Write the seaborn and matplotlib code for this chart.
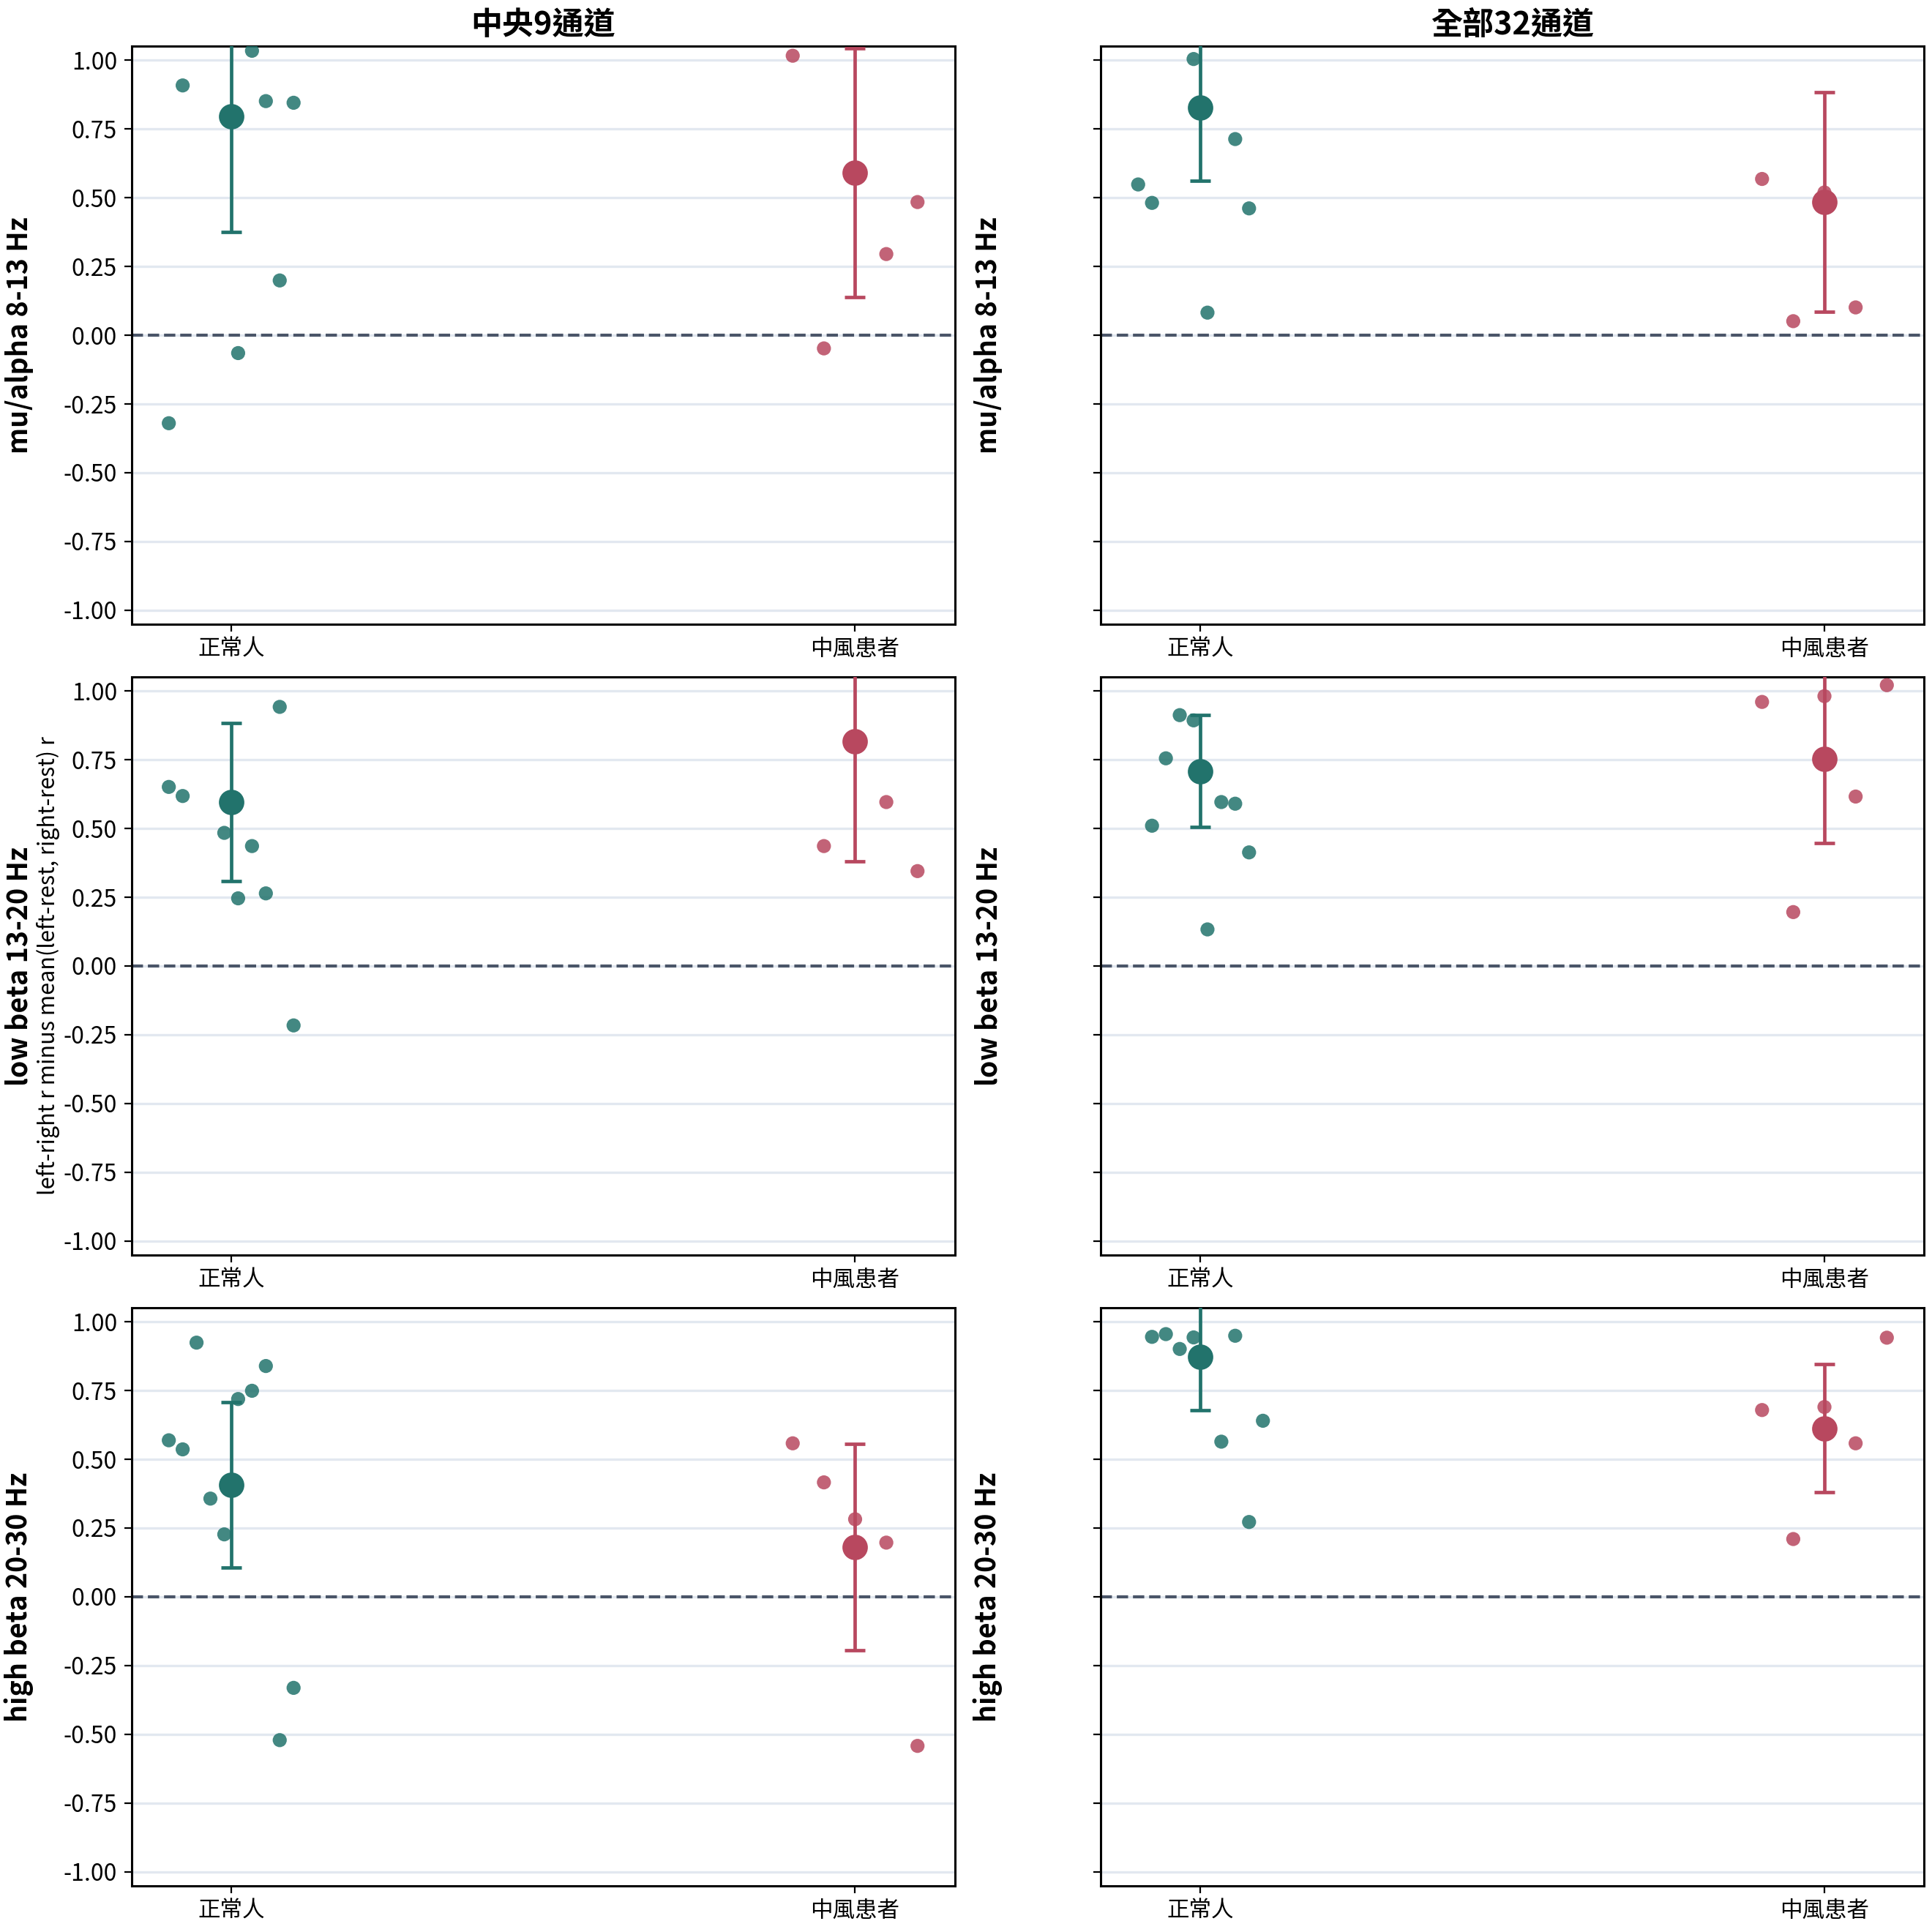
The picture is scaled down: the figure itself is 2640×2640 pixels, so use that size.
import numpy as np
import pandas as pd
import seaborn as sns
import matplotlib.pyplot as plt

sns.set_style('ticks')
plt.rcParams['font.family'] = ['Noto Sans CJK TC', 'DejaVu Sans']
plt.rcParams['axes.unicode_minus'] = False
for k in ['text.color', 'axes.labelcolor', 'xtick.color', 'ytick.color']:
    plt.rcParams[k] = 'black'

groups = ['正常人', '中風患者']
bands = ['mu/alpha 8-13 Hz', 'low beta 13-20 Hz', 'high beta 20-30 Hz']
regions = ['中央9通道', '全部32通道']

nan = np.nan
# 每位受試者的數值 (畫面外的點以 nan 表示)
healthy_c9_mu = [-0.32, 0.908, nan, nan, nan, -0.065, 1.034, 0.851, 0.199, 0.845]
healthy_c9_lb = [0.651, 0.618, nan, nan, 0.484, 0.246, 0.436, 0.264, 0.942, -0.216]
healthy_c9_hb = [0.569, 0.536, 0.924, 0.357, 0.227, 0.719, 0.749, 0.839, -0.521, -0.331]
healthy_a32_mu = [0.548, 0.481, nan, nan, 1.004, 0.082, nan, 0.713, 0.461, nan]
healthy_a32_lb = [nan, 0.510, 0.755, 0.912, 0.893, 0.133, 0.596, 0.590, 0.413, nan]
healthy_a32_hb = [nan, 0.945, 0.955, 0.901, 0.943, nan, 0.564, 0.949, 0.272, 0.640]

stroke_c9_mu = [1.016, -0.048, nan, 0.295, 0.484]
stroke_c9_lb = [nan, 0.436, nan, 0.596, 0.345]
stroke_c9_hb = [0.558, 0.416, 0.282, 0.197, -0.542]
stroke_a32_mu = [0.568, 0.051, 0.519, 0.101, nan]
stroke_a32_lb = [0.960, 0.196, 0.981, 0.616, 1.021]
stroke_a32_hb = [0.679, 0.210, 0.690, 0.558, 0.942]

# 平均值與誤差 (依列: 頻帶, 依欄: 通道組)
healthy_mean = [[0.796, 0.827], [0.596, 0.709], [0.407, 0.872]]
healthy_err = [[0.420, 0.265], [0.288, 0.203], [0.301, 0.194]]
stroke_mean = [[0.591, 0.484], [0.818, 0.754], [0.182, 0.613]]
stroke_err = [[0.452, 0.400], [0.437, 0.308], [0.375, 0.232]]

healthy_vals = [[healthy_c9_mu, healthy_a32_mu],
                [healthy_c9_lb, healthy_a32_lb],
                [healthy_c9_hb, healthy_a32_hb]]
stroke_vals = [[stroke_c9_mu, stroke_a32_mu],
               [stroke_c9_lb, stroke_a32_lb],
               [stroke_c9_hb, stroke_a32_hb]]

colors = {'正常人': '#22736c', '中風患者': '#b8485f'}

fig, axes = plt.subplots(3, 2, figsize=(13.2, 13.2))

for r in range(3):
    for c in range(2):
        ax = axes[r, c]
        ax.grid(axis='y', color='#e2e8f0', linewidth=1.2, zorder=0)
        ax.set_axisbelow(True)
        ax.axhline(0, color='#4a5568', linestyle='--', linewidth=1.5, zorder=1)
        for gi, (g, vals, means, errs) in enumerate([
                ('正常人', healthy_vals[r][c], healthy_mean, healthy_err),
                ('中風患者', stroke_vals[r][c], stroke_mean, stroke_err)]):
            n = len(vals)
            df = pd.DataFrame({'x': gi + np.linspace(-0.1, 0.1, n), 'y': vals})
            sns.scatterplot(data=df, x='x', y='y', ax=ax, color=colors[g],
                            alpha=0.85, s=48, edgecolor='none', zorder=3)
            ax.errorbar(gi, means[r][c], yerr=errs[r][c], fmt='o',
                        color=colors[g], markersize=11.5, capsize=5,
                        elinewidth=1.7, capthick=1.7, zorder=4)
        ax.set_xlim(-0.16, 1.16)
        ax.set_ylim(-1.05, 1.05)
        ax.set_xticks([0, 1])
        ax.set_xticklabels(groups, fontsize=11)
        ax.set_yticks([-1, -0.75, -0.5, -0.25, 0, 0.25, 0.5, 0.75, 1.0])
        ax.yaxis.set_major_formatter(plt.FormatStrFormatter('%.2f'))
        ax.tick_params(axis='y', labelsize=11.5, labelleft=(c == 0))
        ax.set_xlabel('')
        ax.set_ylabel(bands[r], fontsize=13.5, fontweight='bold')
        ax.yaxis.set_label_coords(-0.119, 0.5)
        for sp in ax.spines.values():
            sp.set_visible(True)
            sp.set_color('black')
            sp.set_linewidth(1.1)
        if r == 0:
            ax.set_title(regions[c], fontsize=15.5, fontweight='bold', pad=6)

fig.subplots_adjust(left=0.068, right=0.996, top=0.976, bottom=0.024,
                    wspace=0.177, hspace=0.092)
fig.supylabel('left-right r minus mean(left-rest, right-rest) r', fontsize=11, x=0.019)
plt.savefig('out.png', dpi=200)
